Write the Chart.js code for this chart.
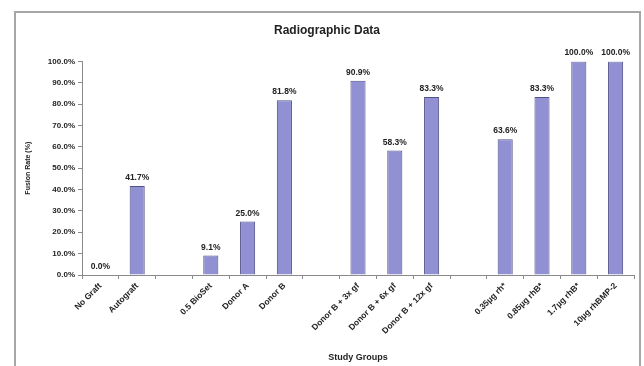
<!DOCTYPE html>
<html>
<head>
<meta charset="utf-8">
<script src="https://cdn.jsdelivr.net/npm/chart.js@4/dist/chart.umd.min.js"></script>
<style>
  html, body { margin: 0; padding: 0; background: #ffffff; }
  #wrap { width: 644px; height: 366px; position: relative; }
</style>
</head>
<body>
<div id="wrap"><canvas id="c" width="644" height="366"></canvas></div>
<script>
// Study groups (blank entries are spacer slots between the groups)
const groups = [
  'No Graft', 'Autograft', '',
  '0.5 BioSet', 'Donor A', 'Donor B', '',
  'Donor B + 3x gf', 'Donor B + 6x gf', 'Donor B + 12x gf', '',
  '0.35µg rh*', '0.85µg rhB*', '1.7µg rhB*', '10µg rhBMP-2'
];
// Fusion rate per group, in percent
const fusionRate = [
  0.0, 41.7, null,
  9.1, 25.0, 81.8, null,
  90.9, 58.3, 83.3, null,
  63.6, 83.3, 100.0, 100.0
];
const yTicks = [0, 10, 20, 30, 40, 50, 60, 70, 80, 90, 100];

const FONT = '"Liberation Sans", Arial, sans-serif';
const INK = '#222222';
const AXIS = '#8a8a8a';

// Outer chart frame, drawn behind everything
const framePlugin = {
  id: 'frame',
  beforeDraw(chart) {
    const ctx = chart.ctx;
    ctx.save();
    ctx.fillStyle = '#ffffff';
    ctx.fillRect(0, 0, chart.width, chart.height);
    ctx.strokeStyle = '#a6a6a6';
    ctx.lineWidth = 2;
    ctx.strokeRect(15, 12, 625, chart.height + 20);
    ctx.restore();
  }
};

// Value labels above each bar
const valueLabels = {
  id: 'valueLabels',
  afterDatasetsDraw(chart) {
    const ctx = chart.ctx;
    const meta = chart.getDatasetMeta(0);
    ctx.save();
    ctx.font = 'bold 8.5px ' + FONT;
    ctx.fillStyle = INK;
    ctx.textAlign = 'center';
    ctx.textBaseline = 'bottom';
    meta.data.forEach((bar, i) => {
      const v = fusionRate[i];
      if (v === null || v === undefined) return;
      ctx.fillText(v.toFixed(1) + '%', bar.x, bar.y - 4);
    });
    ctx.restore();
  }
};

new Chart(document.getElementById('c'), {
  type: 'bar',
  data: {
    labels: groups,
    datasets: [{
      data: fusionRate,
      backgroundColor: '#9090d2',
      borderColor: '#50508a',
      borderWidth: 1,
      barPercentage: 0.41,
      categoryPercentage: 1.0
    }]
  },
  options: {
    responsive: false,
    animation: false,
    devicePixelRatio: 1,
    layout: { padding: { left: 20, right: 10, top: 14, bottom: 0 } },
    plugins: {
      legend: { display: false },
      tooltip: { enabled: false },
      title: {
        display: true,
        text: 'Radiographic Data',
        color: INK,
        font: { family: FONT, size: 12, weight: 'bold' },
        padding: { top: 9, bottom: 24 }
      }
    },
    scales: {
      x: {
        offset: true,
        grid: {
          offset: true,
          drawOnChartArea: false,
          drawTicks: true,
          tickLength: 4,
          color: AXIS
        },
        border: { color: AXIS, width: 1 },
        ticks: {
          autoSkip: false,
          minRotation: 45,
          maxRotation: 45,
          padding: 2,
          color: INK,
          font: { family: FONT, size: 8.5, weight: 'bold' }
        },
        title: {
          display: true,
          text: 'Study Groups',
          color: INK,
          font: { family: FONT, size: 9, weight: 'bold' },
          padding: { top: 0, bottom: 3 }
        },
        afterFit(scale) { scale.height = 91; }
      },
      y: {
        min: 0,
        max: 100,
        afterBuildTicks(scale) { scale.ticks = yTicks.map(v => ({ value: v })); },
        grid: {
          drawOnChartArea: false,
          drawTicks: true,
          tickLength: 4,
          color: AXIS
        },
        border: { color: AXIS, width: 1 },
        ticks: {
          padding: 3,
          color: INK,
          font: { family: FONT, size: 8, weight: 'bold' },
          callback: v => v.toFixed(1) + '%'
        },
        title: {
          display: true,
          text: 'Fusion Rate (%)',
          color: INK,
          font: { family: FONT, size: 7, weight: 'bold' },
          padding: { top: 4, bottom: 0 }
        },
        afterFit(scale) { scale.width = 62; }
      }
    }
  },
  plugins: [framePlugin, valueLabels]
});
</script>
</body>
</html>
